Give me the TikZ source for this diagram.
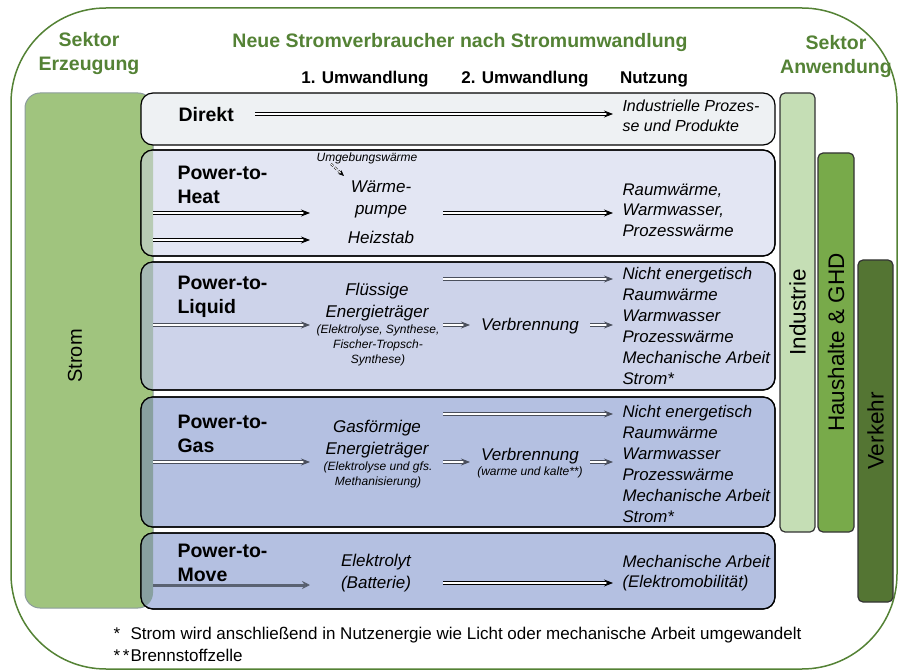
\documentclass[tikz,border=0pt]{standalone}
\usepackage{fontspec}
\setmainfont{Liberation Sans}
\usetikzlibrary{arrows.meta}

\definecolor{sektorgruen}{HTML}{548235}
\definecolor{stromfill}{HTML}{A0C47E}
\definecolor{stromrand}{HTML}{8C9C9C}
\definecolor{direktfill}{HTML}{EEF1F3}
\definecolor{heatfill}{HTML}{E3E6F3}
\definecolor{liquidfill}{HTML}{CDD3EA}
\definecolor{gasfill}{HTML}{B4C0E1}
\definecolor{heatolap}{HTML}{B8CBB4}
\definecolor{liquidolap}{HTML}{A6B9B4}
\definecolor{gasolap}{HTML}{88A0A0}
\definecolor{indfill}{HTML}{C5DEB5}
\definecolor{hhfill}{HTML}{78AA4A}
\definecolor{vkfill}{HTML}{547533}
\definecolor{pfeilgrau}{HTML}{4A4F5C}
\definecolor{movegrau}{HTML}{5A6272}

\tikzset{
  gruen/.style={text=sektorgruen, font=\fontsize{19.5}{24}\selectfont\bfseries, align=center},
  kopf/.style={font=\fontsize{17}{20}\selectfont\bfseries},
  rowbox/.style={draw=black, line width=1.2pt, rounded corners=12pt, minimum width=634pt,
    inner sep=0pt, outer sep=0pt, anchor=north west},
  bar/.style={draw=black!80, line width=1.2pt, rounded corners=5pt, inner sep=0pt,
    outer sep=0pt, anchor=north west},
  bartext/.style={rotate=90, font=\fontsize{22.5}{26}\selectfont},
  titel/.style={font=\fontsize{19.5}{24}\selectfont\bfseries, align=left, anchor=west},
  mitte/.style={font=\fontsize{17}{22}\selectfont\itshape, align=center},
  klein/.style={font=\fontsize{12}{15}\selectfont\itshape, align=center},
  nutz/.style={font=\fontsize{16.8}{21}\selectfont\itshape, align=left, anchor=west},
  fuss/.style={font=\fontsize{17}{20}\selectfont, anchor=west},
  dbl/.style={draw=#1, line width=0.8pt, double=white, double distance=1.5pt,
    -{Stealth[length=9pt,width=7pt,fill=#1]}},
  dbl/.default=black
}

% Ueberlappung mit dem Strom-Kasten
\newcommand\stromolap[2]{%
  \begin{scope}
    \clip[rounded corners=12pt] (#1.north west) rectangle (#1.south east);
    \fill[#2, rounded corners=15pt] (strom.north west) rectangle (strom.south east);
  \end{scope}
  \draw[line width=1.2pt, rounded corners=12pt] (#1.north west) rectangle (#1.south east);
}

\begin{document}
\begin{tikzpicture}[x=1pt, y=-1pt]
  \useasboundingbox (0,0) rectangle (898,671);

  % Rahmen
  \draw[sektorgruen, line width=1.5pt, rounded corners=95pt] (11,8) rectangle (897,669);

  \node[gruen] (erz) at (89,54) {Sektor\\Erzeugung};
  \node[gruen] (anw) at (836,57) {Sektor\\Anwendung};
  \node[gruen] (neu) at (460,43) {Neue Stromverbraucher nach Stromumwandlung};
  \node[kopf] (u1) at (365,79) {1. Umwandlung};
  \node[kopf] (u2) at (525,79) {2. Umwandlung};
  \node[kopf] (nz) at (654,79) {Nutzung};

  % Strom
  \node[draw=stromrand, fill=stromfill, line width=1pt, rounded corners=15pt, inner sep=0pt,
    outer sep=0pt, minimum width=128pt, minimum height=515pt, anchor=north west] (strom) at (25,93) {};
  \node[rotate=90, font=\fontsize{20}{22}\selectfont] (stromtxt) at (75,356) {Strom};

  % Zeilen
  \node[rowbox, fill=direktfill, minimum height=52pt] (direkt) at (141,93) {};
  \node[rowbox, fill=heatfill, minimum height=106pt] (heat) at (141,150) {};
  \node[rowbox, fill=liquidfill, minimum height=128pt] (liquid) at (141,262) {};
  \node[rowbox, fill=gasfill, minimum height=130pt] (gas) at (141,397) {};
  \node[rowbox, fill=gasfill, minimum height=76pt] (move) at (141,533) {};
  \stromolap{heat}{heatolap}
  \stromolap{liquid}{liquidolap}
  \stromolap{gas}{gasolap}
  \stromolap{move}{gasolap}

  % Sektoren Anwendung
  \node[bar, fill=indfill, minimum width=35pt, minimum height=439pt] (ind) at (780,93) {};
  \node[bar, fill=hhfill, minimum width=36pt, minimum height=379pt] (hh) at (818,153) {};
  \node[bar, fill=vkfill, minimum width=35pt, minimum height=342pt] (vk) at (858,260) {};
  \node[bartext] (indtxt) at (ind.center) {Industrie};
  \node[bartext] (hhtxt) at (hh.center) {Haushalte \& GHD};
  \node[bartext] (vktxt) at (vk.center) {Verkehr};

  % Titel
  \node[titel] (t-direkt) at (175,115) {Direkt};
  \node[titel] (t-heat) at (174,185) {Power-to-\\Heat};
  \node[titel] (t-liquid) at (174,297) {Power-to-\\Liquid};
  \node[titel] (t-gas) at (174,434) {Power-to-\\Gas};
  \node[titel] (t-move) at (174,563) {Power-to-\\Move};

  % Umwandlung
  \node[klein] (umg) at (367,158) {Umgebungswärme};
  \node[mitte] (wp) at (381,199) {Wärme-\\pumpe};
  \node[mitte] (hz) at (381,237) {Heizstab};
  \node[mitte] (fl) at (377,302) {Flüssige\\Energieträger};
  \node[klein] (fl-k) at (378,345) {(Elektrolyse, Synthese,\\Fischer-Tropsch-\\Synthese)};
  \node[mitte] (vb-l) at (530,326) {Verbrennung};
  \node[mitte] (gf) at (377,439) {Gasförmige\\Energieträger};
  \node[klein] (gf-k) at (378,475) {(Elektrolyse und gfs.\\Methanisierung)};
  \node[mitte] (vb-g) at (530,456) {Verbrennung};
  \node[klein] (vb-gk) at (530,472) {(warme und kalte**)};
  \node[mitte] (el) at (376,573) {Elektrolyt\\(Batterie)};

  % Nutzung
  \node[nutz, font=\fontsize{16}{20}\selectfont\itshape] (n-direkt) at (619,116) {Industrielle Prozes-\\se und Produkte};
  \node[nutz, font=\fontsize{16.8}{20.5}\selectfont\itshape] (n-heat) at (619,210) {Raumwärme,\\Warmwasser,\\Prozesswärme};
  \node[nutz] (n-liquid) at (619,326) {Nicht energetisch\\Raumwärme\\Warmwasser\\Prozesswärme\\Mechanische Arbeit\\Strom*};
  \node[nutz] (n-gas) at (619,464) {Nicht energetisch\\Raumwärme\\Warmwasser\\Prozesswärme\\Mechanische Arbeit\\Strom*};
  \node[nutz, font=\fontsize{16.8}{20}\selectfont\itshape] (n-move) at (619,573) {Mechanische Arbeit\\(Elektromobilität)};

  % Pfeile
  \foreach \n/\y in {hp/213, hz/240, liq/325, gas/462, mov/585}
    \coordinate (in-\n) at (310,\y);
  \foreach \n/\y in {direkt/114, heat/213, liq/279, gas/414, mov/583}
    \coordinate (out-\n) at (613,\y);
  \coordinate (d-start) at (255,114);
  \draw[dbl] (d-start) -- (out-direkt);
  \draw[dbl] (strom.east |- in-hp) -- (in-hp);
  \draw[dbl] (strom.east |- in-hz) -- (in-hz);
  \draw[dbl] (443,213) -- (out-heat);
  \draw[dbl, densely dashed, line width=0.6pt, double distance=1pt, -{Stealth[length=6pt,width=5pt]}] (331,164) -- (344,176);
  \draw[dbl=pfeilgrau] (strom.east |- in-liq) -- (in-liq);
  \draw[dbl=pfeilgrau] (443,279) -- (out-liq);
  \draw[dbl=pfeilgrau] (443,325) -- (470,325);
  \draw[dbl=pfeilgrau] (590,325) -- (613,325);
  \draw[dbl=pfeilgrau] (strom.east |- in-gas) -- (in-gas);
  \draw[dbl=pfeilgrau] (443,414) -- (out-gas);
  \draw[dbl=pfeilgrau] (443,462) -- (470,462);
  \draw[dbl=pfeilgrau] (590,462) -- (613,462);
  \draw[draw=movegrau, line width=3pt, -{Stealth[length=8pt,width=8pt,fill=black]}] (strom.east |- in-mov) -- (in-mov);
  \draw[dbl] (443,583) -- (out-mov);

  % Fussnoten
  \node[fuss] (fn1) at (110,635) {\makebox[17pt][l]{*}Strom wird anschließend in Nutzenergie wie Licht oder mechanische Arbeit umgewandelt};
  \node[fuss] (fn2) at (110,655) {\makebox[17pt][l]{*\,*}Brennstoffzelle};
\end{tikzpicture}
\end{document}
